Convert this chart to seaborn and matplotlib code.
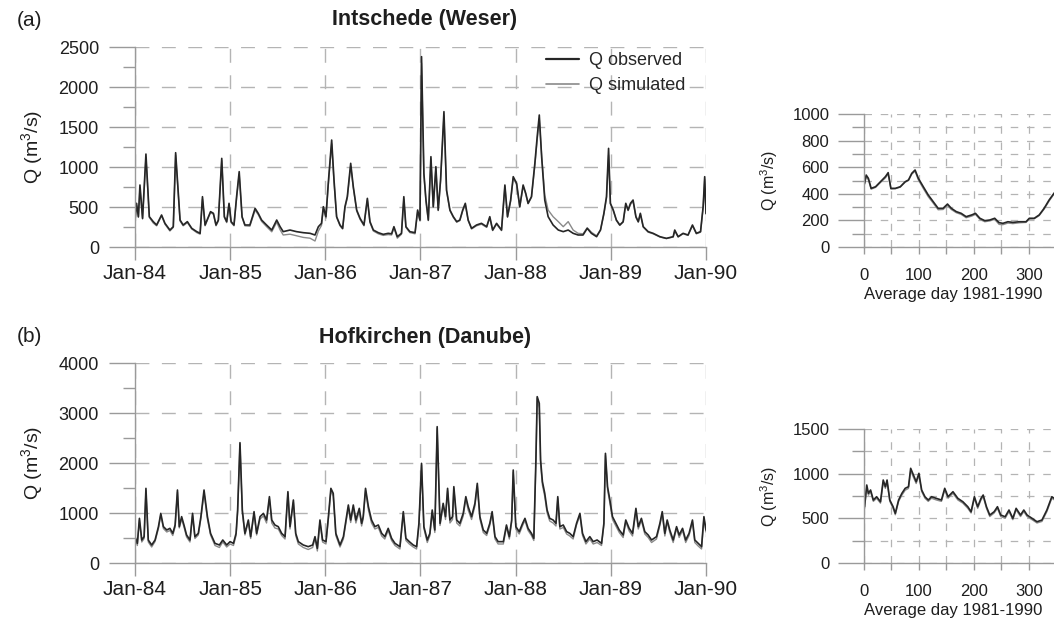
import matplotlib
matplotlib.use("Agg")
import matplotlib.pyplot as plt
import matplotlib.dates as mdates
from matplotlib.ticker import MultipleLocator
from matplotlib.lines import Line2D
import pandas as pd
import seaborn as sns

# ---- data (days since 1 Jan 1984, discharge in m3/s) ----
days_weser = [0, 6, 13, 19, 29, 42, 55, 70, 83, 102,
              115, 134, 147, 156, 173, 185, 201, 218, 237, 250,
              259, 269, 282, 290, 301, 311, 320, 333, 343, 352,
              361, 369, 380, 390, 400, 411, 422, 441, 461, 473,
              486, 505, 525, 544, 557, 569, 595, 620, 646, 672,
              691, 704, 716, 723, 733, 742, 755, 764, 774, 787,
              797, 806, 815, 828, 838, 851, 864, 879, 892, 902,
              915, 934, 953, 972, 985, 994, 1007, 1023, 1032, 1040,
              1055, 1075, 1085, 1094, 1100, 1109, 1117, 1126, 1136, 1145,
              1155, 1164, 1173, 1186, 1196, 1209, 1222, 1235, 1247, 1258,
              1268, 1279, 1292, 1311, 1330, 1350, 1362, 1373, 1388, 1407,
              1420, 1430, 1442, 1452, 1465, 1477, 1490, 1500, 1509, 1522,
              1535, 1544, 1552, 1561, 1573, 1586, 1605, 1625, 1644, 1663,
              1682, 1701, 1720, 1736, 1752, 1772, 1787, 1800, 1810, 1818,
              1825, 1836, 1848, 1861, 1874, 1884, 1893, 1902, 1912, 1923,
              1932, 1940, 1951, 1970, 1989, 2015, 2040, 2066, 2072, 2085,
              2104, 2123, 2140, 2155, 2171, 2181, 2187, 2192]
obs_weser = [337, 546, 379, 775, 358, 1162, 379, 317, 275, 400,
             296, 212, 254, 1179, 337, 275, 317, 233, 192, 171,
             629, 275, 379, 442, 421, 275, 337, 1108, 379, 317,
             546, 317, 275, 629, 942, 379, 275, 275, 483, 421,
             337, 275, 212, 337, 254, 192, 212, 192, 179, 171,
             150, 254, 296, 504, 379, 800, 1337, 837, 379, 275,
             233, 504, 629, 1046, 754, 462, 358, 275, 608, 317,
             212, 179, 158, 171, 165, 254, 129, 171, 629, 254,
             192, 179, 462, 337, 2379, 921, 587, 337, 1129, 504,
             1004, 462, 837, 1692, 712, 462, 379, 317, 337, 462,
             546, 337, 233, 275, 296, 254, 379, 212, 296, 212,
             775, 379, 587, 879, 796, 504, 775, 671, 546, 629,
             1046, 1379, 1650, 1129, 587, 379, 275, 212, 192, 212,
             171, 150, 150, 233, 171, 129, 212, 421, 629, 1233,
             546, 462, 337, 275, 317, 546, 462, 546, 587, 379,
             317, 421, 254, 192, 171, 129, 108, 129, 212, 129,
             171, 150, 275, 171, 192, 504, 879, 421]
sim_weser = [320, 520, 370, 740, 350, 1120, 370, 300, 265, 390,
             285, 200, 245, 1150, 325, 265, 305, 225, 180, 160,
             600, 265, 370, 430, 410, 265, 325, 1080, 370, 305,
             530, 305, 265, 610, 910, 370, 265, 260, 460, 405,
             320, 255, 190, 310, 215, 150, 160, 140, 120, 110,
             75, 200, 270, 480, 360, 770, 1290, 810, 370, 265,
             225, 490, 610, 1010, 740, 450, 345, 265, 590, 305,
             200, 165, 145, 155, 150, 240, 110, 160, 600, 245,
             180, 165, 440, 325, 2300, 900, 570, 330, 1100, 495,
             980, 455, 820, 1640, 700, 455, 370, 310, 330, 450,
             530, 330, 225, 265, 285, 245, 365, 205, 285, 205,
             760, 370, 570, 860, 780, 495, 760, 660, 540, 620,
             1020, 1340, 1600, 1150, 650, 462, 379, 317, 254, 317,
             212, 171, 165, 240, 185, 140, 215, 410, 610, 1150,
             540, 455, 330, 270, 310, 530, 455, 530, 570, 370,
             310, 410, 250, 185, 165, 125, 105, 125, 200, 125,
             165, 145, 265, 165, 185, 490, 850, 410]

days_danube = [0, 9, 17, 26, 35, 42, 51, 64, 77, 90,
               99, 109, 122, 134, 145, 154, 163, 170, 179, 188,
               198, 211, 221, 230, 243, 253, 265, 278, 290, 307,
               324, 337, 352, 365, 378, 388, 394, 403, 412, 422,
               435, 444, 457, 467, 480, 493, 505, 516, 525, 537,
               550, 563, 576, 587, 595, 608, 617, 627, 646, 665,
               682, 691, 700, 710, 720, 733, 742, 752, 761, 771,
               787, 800, 812, 819, 828, 838, 848, 861, 870, 876,
               885, 896, 908, 921, 934, 947, 959, 972, 985, 998,
               1017, 1030, 1040, 1053, 1068, 1081, 1090, 1100, 1109, 1122,
               1132, 1141, 1151, 1160, 1171, 1183, 1192, 1200, 1209, 1219,
               1224, 1235, 1247, 1260, 1270, 1279, 1292, 1305, 1314, 1324,
               1337, 1350, 1362, 1371, 1382, 1394, 1414, 1426, 1437, 1446,
               1452, 1462, 1475, 1488, 1497, 1509, 1522, 1531, 1539, 1544,
               1552, 1557, 1564, 1573, 1582, 1592, 1605, 1616, 1623, 1631,
               1644, 1657, 1669, 1682, 1695, 1708, 1718, 1731, 1746, 1759,
               1774, 1791, 1800, 1806, 1814, 1823, 1833, 1846, 1859, 1874,
               1884, 1897, 1910, 1923, 1932, 1944, 1957, 1970, 1983, 2002,
               2015, 2024, 2034, 2043, 2053, 2066, 2079, 2089, 2102, 2114,
               2127, 2140, 2149, 2162, 2175, 2184, 2192]
obs_danube = [527, 393, 893, 460, 527, 1493, 460, 360, 460, 727,
              993, 727, 660, 693, 593, 760, 1460, 727, 927, 760,
              560, 460, 993, 527, 593, 927, 1460, 927, 593, 393,
              360, 460, 360, 427, 393, 593, 1060, 2407, 1060, 593,
              860, 527, 1027, 593, 927, 993, 860, 1327, 860, 760,
              727, 593, 527, 1427, 727, 1260, 593, 427, 360, 327,
              360, 527, 293, 860, 460, 427, 900, 1493, 1393, 593,
              360, 527, 927, 1160, 860, 1160, 860, 1093, 793, 927,
              1493, 1127, 860, 727, 760, 593, 527, 693, 493, 393,
              327, 1027, 493, 427, 360, 327, 793, 1993, 727, 460,
              593, 1060, 660, 2727, 793, 1193, 927, 1493, 860, 927,
              1527, 860, 793, 993, 1327, 1127, 927, 1193, 1593, 927,
              660, 593, 793, 1027, 527, 427, 427, 760, 527, 860,
              1860, 727, 627, 793, 893, 693, 593, 493, 2060, 3327,
              3193, 2060, 1627, 1393, 1060, 893, 860, 793, 1327, 727,
              760, 627, 593, 527, 793, 993, 593, 427, 527, 427,
              460, 393, 793, 2193, 1527, 1260, 927, 793, 660, 560,
              860, 693, 593, 1093, 727, 893, 627, 560, 460, 527,
              793, 1027, 593, 860, 660, 460, 727, 560, 693, 460,
              593, 860, 460, 393, 327, 927, 660]
sim_danube = [490, 350, 860, 420, 490, 1450, 420, 320, 430, 690,
              960, 690, 620, 650, 550, 720, 1420, 700, 880, 720,
              520, 420, 950, 490, 560, 890, 1400, 880, 560, 350,
              310, 420, 320, 380, 350, 550, 1020, 2380, 1000, 560,
              820, 490, 990, 560, 880, 940, 800, 1280, 800, 700,
              680, 550, 480, 1400, 680, 1220, 550, 380, 310, 270,
              310, 490, 240, 820, 420, 380, 860, 1450, 1340, 550,
              320, 480, 880, 1110, 810, 1100, 800, 1040, 740, 880,
              1450, 1060, 800, 680, 710, 540, 480, 650, 450, 350,
              280, 990, 450, 380, 320, 280, 760, 1960, 690, 410,
              550, 1010, 610, 2690, 750, 1150, 870, 1450, 800, 870,
              1490, 800, 740, 940, 1280, 1060, 870, 1140, 1550, 880,
              610, 550, 750, 990, 480, 380, 380, 720, 480, 820,
              1820, 680, 580, 750, 850, 650, 550, 450, 2000, 3300,
              3100, 1980, 1560, 1330, 1000, 840, 800, 740, 1290, 680,
              710, 580, 540, 480, 760, 950, 550, 380, 480, 380,
              410, 350, 760, 2150, 1470, 1200, 870, 740, 610, 510,
              820, 640, 540, 1050, 680, 850, 580, 510, 410, 480,
              750, 990, 540, 820, 610, 410, 690, 510, 650, 410,
              550, 820, 410, 340, 280, 900, 620]

# average annual cycle 1981-1990 (day of year)
doy_weser = [1, 4, 8, 13, 21, 30, 39, 44, 49, 57,
             66, 75, 81, 87, 93, 99, 108, 117, 126, 135,
             144, 152, 159, 168, 177, 186, 196, 203, 211, 220,
             229, 238, 246, 253, 262, 271, 283, 295, 301, 310,
             319, 328, 337, 346, 355, 365]
avg_obs_weser = [479, 541, 516, 441, 453, 491, 529, 559, 441, 441,
                 453, 491, 504, 554, 579, 516, 453, 391, 341, 291,
                 291, 323, 291, 266, 253, 228, 241, 253, 216, 198,
                 203, 216, 183, 178, 190, 185, 190, 190, 216, 216,
                 241, 291, 353, 404, 450, 500]
avg_sim_weser = [470, 530, 505, 435, 448, 485, 520, 548, 436, 438,
                 450, 487, 500, 548, 570, 505, 440, 378, 330, 280,
                 282, 312, 282, 258, 245, 220, 232, 245, 208, 190,
                 196, 208, 170, 168, 180, 176, 182, 185, 210, 212,
                 236, 285, 345, 398, 445, 495]

doy_danube = [1, 5, 8, 12, 17, 23, 30, 35, 39, 42,
              47, 53, 57, 63, 69, 75, 81, 85, 90, 95,
              100, 105, 111, 117, 123, 132, 141, 147, 153, 162,
              171, 180, 189, 195, 201, 207, 213, 217, 223, 229,
              237, 243, 249, 257, 264, 271, 277, 285, 291, 297,
              306, 315, 324, 333, 342, 352, 365]
avg_obs_danube = [630, 873, 780, 817, 705, 742, 686, 929, 854, 929,
                  705, 630, 556, 705, 780, 836, 854, 1060, 985, 910,
                  1004, 817, 742, 705, 742, 723, 705, 836, 742, 798,
                  723, 686, 630, 574, 742, 630, 723, 761, 630, 537,
                  574, 630, 537, 518, 593, 500, 612, 537, 593, 537,
                  500, 462, 481, 593, 742, 700, 720]
avg_sim_danube = [610, 850, 760, 800, 690, 725, 670, 905, 835, 905,
                  690, 612, 540, 690, 760, 815, 835, 1030, 960, 890,
                  980, 800, 725, 690, 725, 705, 690, 815, 725, 780,
                  705, 670, 612, 560, 725, 612, 705, 745, 612, 520,
                  560, 612, 520, 500, 575, 485, 595, 520, 575, 520,
                  485, 448, 465, 575, 725, 685, 705]

START = pd.Timestamp("1984-01-01")
END = pd.Timestamp("1990-01-01")

OBS_C = "#262626"
SIM_C = "#8a8a8a"
AXC = "#9a9a9a"
GRID = "#b4b4b4"
TXT = "#1e1e1e"

sns.set_style("white")
plt.rcParams["font.family"] = ["Liberation Sans", "DejaVu Sans"]
plt.rcParams["mathtext.fontset"] = "custom"
plt.rcParams["mathtext.rm"] = "Liberation Sans"
plt.rcParams["mathtext.it"] = "Liberation Sans:italic"

QLABEL = "Q (m$^3$/s)"


def to_dates(days):
    return START + pd.to_timedelta(days, unit="D")


def draw_pair(ax, x, obs, sim):
    sns.lineplot(x=x, y=sim, ax=ax, color=SIM_C, lw=1.0, estimator=None)
    sns.lineplot(x=x, y=obs, ax=ax, color=OBS_C, lw=1.2, estimator=None)


def base_style(ax):
    for s in ("top", "right"):
        ax.spines[s].set_visible(False)
    for s in ("left", "bottom"):
        ax.spines[s].set_color(AXC)
        ax.spines[s].set_linewidth(1.0)
    ax.set_xlabel("")
    ax.set_ylabel("")


def style_timeseries(ax, ymax, ystep):
    ax.set_xlim(START, END)
    ax.set_ylim(0, ymax)
    ax.xaxis.set_major_locator(mdates.YearLocator(month=1, day=1))
    ax.xaxis.set_major_formatter(mdates.DateFormatter("%b-%y"))
    ax.yaxis.set_major_locator(MultipleLocator(ystep))
    ax.yaxis.set_minor_locator(MultipleLocator(ystep / 2))
    ax.grid(True, which="major", color=GRID, linestyle=(0, (10, 9)), lw=1.0)
    ax.tick_params(axis="y", which="major", left=True, direction="out", length=19,
                   width=1, color=AXC, labelsize=13, pad=7, labelcolor=TXT)
    ax.tick_params(axis="y", which="minor", left=True, direction="out", length=9,
                   width=1, color=AXC)
    ax.tick_params(axis="x", which="major", bottom=True, direction="out", length=9,
                   width=1, color=AXC, labelsize=15, pad=3, labelcolor=TXT)
    base_style(ax)


def style_cycle(ax, ymax, ystep):
    ax.set_xlim(0, 366)
    ax.set_ylim(0, ymax)
    ax.xaxis.set_major_locator(MultipleLocator(100))
    ax.xaxis.set_minor_locator(MultipleLocator(50))
    ax.yaxis.set_major_locator(MultipleLocator(ystep))
    ax.yaxis.set_minor_locator(MultipleLocator(ystep / 2))
    ax.grid(True, which="both", color=GRID, linestyle=(0, (6, 7)), lw=0.9)
    ax.tick_params(axis="y", which="major", left=True, direction="out", length=19,
                   width=1, color=AXC, labelsize=12, pad=6, labelcolor=TXT)
    ax.tick_params(axis="y", which="minor", left=True, direction="out", length=9,
                   width=1, color=AXC)
    ax.tick_params(axis="x", which="major", bottom=True, direction="out", length=5,
                   width=1, color=AXC, labelsize=12, pad=10, labelcolor=TXT)
    ax.tick_params(axis="x", which="minor", bottom=True, direction="out", length=5,
                   width=1, color=AXC)
    base_style(ax)
    # the original is cropped at the right edge; keep the label whole inside the figure
    ax.set_xlabel("Average day 1981-1990", fontsize=12, color=TXT, labelpad=5)
    ax.xaxis.set_label_coords(0.0, -0.30)
    ax.xaxis.label.set_horizontalalignment("left")


W, H = 1054, 627
fig = plt.figure(figsize=(W / 100, H / 100), dpi=100)
fig.patch.set_facecolor("white")

ax_a = fig.add_axes([135 / W, 1 - 247 / H, 571 / W, 200 / H])
ax_b = fig.add_axes([135 / W, 1 - 563 / H, 571 / W, 200 / H])
ax_ca = fig.add_axes([864 / W, 1 - 247 / H, 201 / W, 133 / H])
ax_cb = fig.add_axes([864 / W, 1 - 563 / H, 201 / W, 134 / H])

draw_pair(ax_a, to_dates(days_weser), obs_weser, sim_weser)
draw_pair(ax_b, to_dates(days_danube), obs_danube, sim_danube)
draw_pair(ax_ca, doy_weser, avg_obs_weser, avg_sim_weser)
draw_pair(ax_cb, doy_danube, avg_obs_danube, avg_sim_danube)

style_timeseries(ax_a, 2500, 500)
style_timeseries(ax_b, 4000, 1000)
style_cycle(ax_ca, 1000, 200)
style_cycle(ax_cb, 1500, 500)

# legend
handles = [Line2D([], [], color=OBS_C, lw=1.6), Line2D([], [], color=SIM_C, lw=1.2)]
fig.legend(handles, ["Q observed", "Q simulated"], loc="upper left",
           bbox_to_anchor=(546 / W, 1 - 52 / H), bbox_transform=fig.transFigure,
           frameon=False, fontsize=13, handlelength=1.8, handletextpad=0.6,
           labelspacing=0.45, borderpad=0, borderaxespad=0)

# titles and panel letters
fig.text(425 / W, 1 - 20 / H, "Intschede (Weser)", ha="center", va="center",
         fontsize=15.5, fontweight="bold", color=TXT)
fig.text(425 / W, 1 - 338 / H, "Hofkirchen (Danube)", ha="center", va="center",
         fontsize=15.5, fontweight="bold", color=TXT)
fig.text(17 / W, 1 - 20 / H, "(a)", ha="left", va="center", fontsize=15, color=TXT)
fig.text(17 / W, 1 - 337 / H, "(b)", ha="left", va="center", fontsize=15, color=TXT)

# axis labels
fig.text(32 / W, 1 - 147 / H, QLABEL, rotation=90, ha="center", va="center",
         fontsize=14, color=TXT)
fig.text(32 / W, 1 - 463 / H, QLABEL, rotation=90, ha="center", va="center",
         fontsize=14, color=TXT)
fig.text(769 / W, 1 - 180 / H, QLABEL, rotation=90, ha="center", va="center",
         fontsize=11.5, color=TXT)
fig.text(769 / W, 1 - 496 / H, QLABEL, rotation=90, ha="center", va="center",
         fontsize=11.5, color=TXT)

fig.savefig("out.png", dpi=100, facecolor="white")
